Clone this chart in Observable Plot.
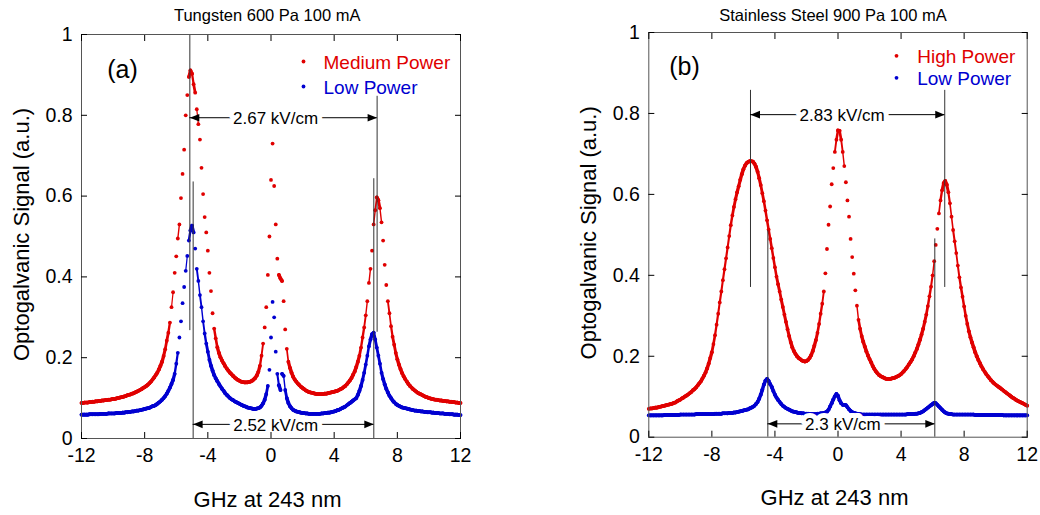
<!DOCTYPE html>
<html><head><meta charset="utf-8">
<script src="https://cdn.jsdelivr.net/npm/d3@7"></script>
<script src="https://cdn.jsdelivr.net/npm/@observablehq/plot@0.6"></script>
<style>
html,body{margin:0;padding:0;background:#fff;}
#wrap{position:relative;width:1040px;height:515px;overflow:hidden;background:#fff;}
#pa{position:absolute;left:0;top:0;}
#pb{position:absolute;left:520px;top:0;}
</style></head><body>
<div id="wrap"><div id="pa"></div><div id="pb"></div></div>
<script>
// detuning grid (GHz at 243 nm)
const ghz = [
-12,-11.9,-11.8,-11.7,-11.6,-11.5,-11.4,-11.3,-11.2,-11.1,
-11,-10.9,-10.8,-10.7,-10.6,-10.5,-10.4,-10.3,-10.2,-10.1,
-10,-9.9,-9.8,-9.7,-9.6,-9.5,-9.4,-9.3,-9.2,-9.1,
-9,-8.9,-8.8,-8.7,-8.6,-8.5,-8.4,-8.3,-8.2,-8.1,
-8,-7.9,-7.8,-7.7,-7.6,-7.5,-7.4,-7.3,-7.2,-7.1,
-7,-6.9,-6.8,-6.7,-6.6,-6.5,-6.4,-6.3,-6.2,-6.1,
-6,-5.9,-5.8,-5.7,-5.6,-5.5,-5.4,-5.3,-5.2,-5.1,
-5,-4.9,-4.8,-4.7,-4.6,-4.5,-4.4,-4.3,-4.2,-4.1,
-4,-3.9,-3.8,-3.7,-3.6,-3.5,-3.4,-3.3,-3.2,-3.1,
-3,-2.9,-2.8,-2.7,-2.6,-2.5,-2.4,-2.3,-2.2,-2.1,
-2,-1.9,-1.8,-1.7,-1.6,-1.5,-1.4,-1.3,-1.2,-1.1,
-1,-0.9,-0.8,-0.7,-0.6,-0.5,-0.4,-0.3,-0.2,-0.1,
0,0.1,0.2,0.3,0.4,0.5,0.6,0.7,0.8,0.9,
1,1.1,1.2,1.3,1.4,1.5,1.6,1.7,1.8,1.9,
2,2.1,2.2,2.3,2.4,2.5,2.6,2.7,2.8,2.9,
3,3.1,3.2,3.3,3.4,3.5,3.6,3.7,3.8,3.9,
4,4.1,4.2,4.3,4.4,4.5,4.6,4.7,4.8,4.9,
5,5.1,5.2,5.3,5.4,5.5,5.6,5.7,5.8,5.9,
6,6.1,6.2,6.3,6.4,6.5,6.6,6.7,6.8,6.9,
7,7.1,7.2,7.3,7.4,7.5,7.6,7.7,7.8,7.9,
8,8.1,8.2,8.3,8.4,8.5,8.6,8.7,8.8,8.9,
9,9.1,9.2,9.3,9.4,9.5,9.6,9.7,9.8,9.9,
10,10.1,10.2,10.3,10.4,10.5,10.6,10.7,10.8,10.9,
11,11.1,11.2,11.3,11.4,11.5,11.6,11.7,11.8,11.9,
12];

// (a) Tungsten, Medium Power
const tungstenMedium = [
0.088,0.088,0.089,0.089,0.089,0.090,0.090,0.091,0.091,0.092,
0.092,0.093,0.093,0.094,0.094,0.095,0.095,0.096,0.096,0.097,
0.098,0.098,0.099,0.100,0.101,0.102,0.103,0.104,0.105,0.107,
0.108,0.109,0.111,0.112,0.114,0.116,0.118,0.120,0.122,0.125,
0.127,0.130,0.133,0.137,0.141,0.146,0.151,0.157,0.163,0.171,
0.180,0.190,0.204,0.221,0.242,0.262,0.287,0.325,0.362,0.410,
0.451,0.495,0.530,0.595,0.655,0.715,0.800,0.850,0.895,0.911,
0.903,0.877,0.856,0.815,0.778,0.740,0.670,0.605,0.548,0.510,
0.465,0.410,0.365,0.310,0.272,0.248,0.226,0.212,0.201,0.193,
0.186,0.179,0.173,0.168,0.163,0.159,0.155,0.151,0.148,0.145,
0.143,0.141,0.140,0.139,0.139,0.139,0.140,0.141,0.143,0.146,
0.150,0.156,0.165,0.180,0.205,0.235,0.275,0.325,0.405,0.500,
0.640,0.730,0.625,0.530,0.445,0.405,0.396,0.390,0.340,0.270,
0.222,0.190,0.175,0.163,0.153,0.146,0.141,0.136,0.132,0.128,
0.125,0.122,0.119,0.117,0.115,0.114,0.113,0.112,0.111,0.110,
0.110,0.110,0.110,0.110,0.111,0.111,0.112,0.113,0.114,0.115,
0.116,0.117,0.118,0.120,0.122,0.124,0.127,0.130,0.134,0.139,
0.144,0.150,0.158,0.166,0.177,0.190,0.205,0.225,0.250,0.275,
0.305,0.340,0.385,0.420,0.465,0.530,0.565,0.597,0.590,0.570,
0.535,0.490,0.430,0.380,0.340,0.310,0.278,0.252,0.232,0.212,
0.196,0.183,0.172,0.162,0.154,0.147,0.141,0.135,0.130,0.126,
0.122,0.119,0.116,0.113,0.111,0.109,0.107,0.105,0.103,0.102,
0.100,0.099,0.098,0.097,0.096,0.096,0.095,0.094,0.094,0.093,
0.093,0.092,0.092,0.091,0.091,0.090,0.090,0.089,0.089,0.088,
0.088];

// (a) Tungsten, Low Power
const tungstenLow = [
0.059,0.059,0.059,0.059,0.059,0.060,0.060,0.060,0.060,0.060,
0.060,0.060,0.061,0.061,0.061,0.061,0.061,0.062,0.062,0.062,
0.062,0.062,0.063,0.063,0.063,0.063,0.064,0.064,0.065,0.065,
0.066,0.066,0.067,0.067,0.068,0.069,0.069,0.070,0.071,0.072,
0.073,0.074,0.075,0.076,0.078,0.080,0.081,0.083,0.086,0.089,
0.092,0.096,0.100,0.105,0.111,0.118,0.126,0.135,0.145,0.160,
0.185,0.212,0.250,0.290,0.335,0.375,0.415,0.452,0.490,0.515,
0.527,0.510,0.470,0.420,0.390,0.355,0.325,0.290,0.260,0.235,
0.215,0.195,0.180,0.168,0.157,0.149,0.142,0.135,0.129,0.123,
0.118,0.112,0.108,0.104,0.100,0.097,0.095,0.092,0.090,0.088,
0.086,0.084,0.082,0.080,0.079,0.077,0.076,0.075,0.074,0.073,
0.073,0.074,0.075,0.077,0.081,0.087,0.096,0.110,0.130,0.170,
0.250,0.338,0.300,0.215,0.160,0.132,0.120,0.160,0.155,0.120,
0.100,0.088,0.080,0.075,0.071,0.069,0.067,0.066,0.065,0.064,
0.063,0.063,0.062,0.062,0.061,0.061,0.061,0.061,0.061,0.061,
0.061,0.061,0.062,0.062,0.063,0.063,0.064,0.064,0.065,0.066,
0.067,0.068,0.070,0.071,0.073,0.075,0.077,0.079,0.082,0.085,
0.088,0.091,0.094,0.097,0.100,0.108,0.118,0.130,0.145,0.163,
0.183,0.205,0.228,0.245,0.258,0.262,0.245,0.225,0.205,0.185,
0.163,0.147,0.134,0.123,0.114,0.106,0.100,0.094,0.090,0.086,
0.083,0.081,0.079,0.077,0.076,0.075,0.074,0.073,0.072,0.071,
0.070,0.069,0.069,0.068,0.068,0.067,0.067,0.066,0.066,0.065,
0.065,0.065,0.064,0.064,0.063,0.063,0.063,0.062,0.062,0.062,
0.061,0.061,0.061,0.060,0.060,0.060,0.059,0.059,0.059,0.058,
0.058];

// (b) Stainless Steel, High Power
const steelHigh = [
0.070,0.071,0.071,0.072,0.073,0.073,0.074,0.075,0.076,0.077,
0.078,0.079,0.080,0.081,0.082,0.083,0.085,0.086,0.089,0.091,
0.093,0.096,0.098,0.101,0.103,0.106,0.109,0.112,0.116,0.119,
0.123,0.128,0.133,0.138,0.145,0.152,0.160,0.170,0.182,0.196,
0.210,0.230,0.252,0.278,0.305,0.333,0.360,0.388,0.415,0.442,
0.469,0.497,0.524,0.548,0.569,0.588,0.605,0.620,0.636,0.650,
0.662,0.671,0.677,0.680,0.682,0.682,0.681,0.676,0.668,0.656,
0.640,0.623,0.603,0.583,0.560,0.536,0.513,0.490,0.467,0.443,
0.420,0.397,0.378,0.360,0.340,0.322,0.303,0.285,0.267,0.250,
0.235,0.222,0.213,0.206,0.200,0.196,0.193,0.190,0.188,0.187,
0.188,0.191,0.196,0.203,0.213,0.226,0.240,0.258,0.280,0.305,
0.330,0.360,0.405,0.465,0.525,0.570,0.625,0.665,0.705,0.735,
0.758,0.757,0.735,0.705,0.670,0.630,0.585,0.545,0.490,0.445,
0.404,0.363,0.325,0.290,0.268,0.250,0.236,0.224,0.212,0.202,
0.193,0.185,0.176,0.169,0.163,0.158,0.154,0.151,0.149,0.147,
0.145,0.144,0.144,0.144,0.145,0.146,0.147,0.149,0.151,0.153,
0.156,0.160,0.164,0.169,0.174,0.180,0.186,0.192,0.200,0.209,
0.218,0.229,0.241,0.254,0.268,0.285,0.303,0.324,0.348,0.372,
0.400,0.435,0.475,0.515,0.553,0.585,0.610,0.628,0.633,0.624,
0.605,0.578,0.545,0.512,0.484,0.455,0.424,0.395,0.370,0.347,
0.323,0.300,0.280,0.262,0.247,0.234,0.222,0.210,0.200,0.191,
0.183,0.175,0.168,0.162,0.156,0.151,0.146,0.141,0.137,0.133,
0.130,0.127,0.124,0.121,0.118,0.115,0.112,0.109,0.106,0.103,
0.100,0.097,0.095,0.092,0.090,0.088,0.086,0.084,0.082,0.080,
0.078];

// (b) Stainless Steel, Low Power
const steelLow = [
0.054,0.054,0.054,0.054,0.054,0.054,0.054,0.054,0.054,0.054,
0.055,0.055,0.055,0.055,0.055,0.055,0.055,0.055,0.055,0.055,
0.056,0.056,0.056,0.056,0.056,0.056,0.056,0.056,0.056,0.056,
0.057,0.057,0.057,0.057,0.057,0.057,0.057,0.057,0.057,0.057,
0.057,0.057,0.058,0.058,0.058,0.058,0.058,0.059,0.059,0.059,
0.059,0.060,0.060,0.060,0.061,0.061,0.062,0.063,0.064,0.065,
0.066,0.067,0.068,0.069,0.071,0.073,0.075,0.078,0.082,0.087,
0.095,0.105,0.117,0.130,0.140,0.144,0.139,0.131,0.124,0.114,
0.105,0.098,0.092,0.087,0.082,0.078,0.075,0.072,0.070,0.068,
0.066,0.064,0.063,0.062,0.061,0.060,0.060,0.059,0.059,0.058,
0.058,0.058,0.057,0.057,0.057,0.057,0.057,0.058,0.058,0.059,
0.059,0.060,0.061,0.063,0.068,0.076,0.084,0.093,0.101,0.107,
0.102,0.091,0.084,0.080,0.080,0.079,0.074,0.069,0.065,0.062,
0.060,0.059,0.058,0.057,0.057,0.056,0.056,0.056,0.056,0.056,
0.056,0.056,0.056,0.056,0.056,0.056,0.056,0.056,0.056,0.056,
0.056,0.056,0.056,0.056,0.056,0.056,0.056,0.056,0.056,0.056,
0.056,0.056,0.056,0.056,0.057,0.057,0.057,0.057,0.057,0.058,
0.058,0.059,0.060,0.062,0.064,0.067,0.070,0.073,0.076,0.079,
0.082,0.085,0.084,0.080,0.076,0.072,0.068,0.064,0.061,0.059,
0.058,0.057,0.057,0.056,0.056,0.056,0.056,0.056,0.056,0.056,
0.056,0.056,0.056,0.056,0.056,0.056,0.056,0.055,0.055,0.055,
0.055,0.055,0.055,0.055,0.055,0.055,0.055,0.055,0.055,0.055,
0.055,0.055,0.055,0.055,0.055,0.054,0.054,0.054,0.054,0.054,
0.054,0.054,0.054,0.054,0.054,0.054,0.054,0.054,0.054,0.054,
0.054];

const xTicks = [-12, -8, -4, 0, 4, 8, 12];
const yTicks = [0, 0.2, 0.4, 0.6, 0.8, 1];
const titles = ["Tungsten 600 Pa 100 mA", "Stainless Steel 900 Pa 100 mA"];
const panelTags = ["(a)", "(b)"];
const legendA = ["Medium Power", "Low Power"];
const legendB = ["High Power", "Low Power"];
const xLabel = "GHz at 243 nm";
const yLabel = "Optogalvanic Signal (a.u.)";

// peak-marker lines (GHz, signal extent) and field annotations
const markersA = [
  {x: -5.14, y1: 0.267, y2: 1},
  {x: -4.93, y1: 0, y2: 0.635},
  {x: 6.72, y1: 0.263, y2: 0.847},
  {x: 6.51, y1: 0, y2: 0.643}
];
const fieldsA = [
  {x1: -5.14, x2: 6.72, y: 0.794, at: 0.29, label: "2.67 kV/cm"},
  {x1: -4.93, x2: 6.51, y: 0.035, at: 0.30, label: "2.52 kV/cm"}
];
const markersB = [
  {x: -5.55, y1: 0.37, y2: 0.857},
  {x: -4.45, y1: 0, y2: 0.51},
  {x: 6.77, y1: 0.37, y2: 0.857},
  {x: 6.14, y1: 0, y2: 0.49}
];
const fieldsB = [
  {x1: -5.55, x2: 6.77, y: 0.797, at: 0.26, label: "2.83 kV/cm"},
  {x1: -4.45, x2: 6.14, y: 0.033, at: 0.31, label: "2.3 kV/cm"}
];

const FONT = "'Liberation Sans', Arial, Helvetica, sans-serif";
const RED = "#e00000", BLUE = "#0000d0";
const headLeft = {draw(c) { c.moveTo(0, 0); c.lineTo(9.5, -3.8); c.lineTo(9.5, 3.8); c.closePath(); }};
const headRight = {draw(c) { c.moveTo(0, 0); c.lineTo(-9.5, -3.8); c.lineTo(-9.5, 3.8); c.closePath(); }};
const fmt = d => String(d);

// consecutive samples close together on screen blend into a trace;
// the joining stroke thins out as neighbouring samples spread apart
function joinWidth(dy) {
  const a = Math.abs(dy);
  if (a <= 0.012) return 3.6;
  if (a >= 0.05) return 0;
  return 3.6 * (0.05 - a) / 0.038;
}
function joins(series, color) {
  const idx = d3.range(series.length - 1).filter(i => joinWidth(series[i + 1] - series[i]) > 1.2);
  return Plot.link(idx, {
    x1: i => ghz[i], y1: i => series[i], x2: i => ghz[i + 1], y2: i => series[i + 1],
    stroke: color, strokeWidth: i => joinWidth(series[i + 1] - series[i]), strokeLinecap: "round"
  });
}

function panel(o) {
  const colors = [RED, BLUE];
  const legendMarks = o.legend.flatMap((t, i) => [
    Plot.dot([t], {frameAnchor: "top-left", dx: o.lgDot, dy: o.lgDy[i], r: 1.9, fill: colors[i], stroke: "none"}),
    Plot.text([t], {frameAnchor: "top-left", dx: o.lgText, dy: o.lgDy[i] + 1, text: d => d, textAnchor: "start", lineAnchor: "middle", fill: colors[i], fontSize: 19})
  ]);
  return Plot.plot({
    width: 520, height: 515,
    marginTop: o.mt, marginRight: o.mr, marginBottom: o.mb, marginLeft: o.ml,
    style: {fontFamily: FONT, fontSize: "19.5px", color: "#000", background: "#fff", overflow: "visible"},
    x: {domain: [-12, 12], axis: null},
    y: {domain: [0, 1], axis: null},
    marks: [
      joins(o.s1, RED),
      Plot.dot(ghz, {x: ghz, y: o.s1, r: 1.9, fill: RED, stroke: "none"}),
      joins(o.s2, BLUE),
      Plot.dot(ghz, {x: ghz, y: o.s2, r: 1.9, fill: BLUE, stroke: "none"}),
      Plot.ruleX(o.markers, {x: "x", y1: "y1", y2: "y2", stroke: "#333", strokeWidth: 1}),
      Plot.ruleY(o.fields, {y: "y", x1: "x1", x2: "x2", stroke: "#000", strokeWidth: 1}),
      Plot.dot(o.fields, {x: "x1", y: "y", symbol: headLeft, fill: "#000", stroke: "none"}),
      Plot.dot(o.fields, {x: "x2", y: "y", symbol: headRight, fill: "#000", stroke: "none"}),
      Plot.text(o.fields, {x: "at", y: "y", text: "label", fontSize: 17, fill: "#000", stroke: "#fff", strokeWidth: 10, dy: 1}),
      Plot.frame({stroke: "#555"}),
      Plot.axisX(xTicks, {anchor: "bottom", tickSize: -6, tickPadding: 15.5, tickFormat: fmt, label: null}),
      Plot.axisX(xTicks, {anchor: "top", tickSize: -6, tickFormat: () => "", label: null}),
      Plot.axisY(yTicks, {anchor: "left", tickSize: -6, tickPadding: 15, tickFormat: fmt, label: null}),
      Plot.axisY(yTicks, {anchor: "right", tickSize: -6, tickFormat: () => "", label: null}),
      Plot.text([o.title], {frameAnchor: "top", text: d => d, textAnchor: "middle", lineAnchor: "bottom", dx: o.tdx, dy: o.tdy, fontSize: 16.5}),
      Plot.text([xLabel], {frameAnchor: "bottom", text: d => d, textAnchor: "middle", lineAnchor: "bottom", dx: -3.5, dy: 68, fontSize: 22}),
      Plot.text([yLabel], {frameAnchor: "left", text: d => d, textAnchor: "middle", lineAnchor: "bottom", rotate: -90, dx: o.ydx, dy: -2, fontSize: 22}),
      Plot.text([o.tag], {frameAnchor: "top-left", text: d => d, textAnchor: "middle", lineAnchor: "middle", dx: o.tagDx, dy: o.tagDy, fontSize: 25}),
      ...legendMarks
    ]
  });
}

document.getElementById("pa").appendChild(panel({
  s1: tungstenMedium, s2: tungstenLow, markers: markersA, fields: fieldsA,
  title: titles[0], tag: panelTags[0], legend: legendA,
  mt: 34, mr: 60, mb: 77, ml: 81,
  tdx: -3.8, tdy: -14, ydx: -52.5, tagDx: 41, tagDy: 35,
  lgDot: 222, lgText: 242, lgDy: [27, 52]
}));
document.getElementById("pb").appendChild(panel({
  s1: steelHigh, s2: steelLow, markers: markersB, fields: fieldsB,
  title: titles[1], tag: panelTags[1], legend: legendB,
  mt: 32, mr: 13.3, mb: 78.3, ml: 128.3,
  tdx: -5, tdy: -12, ydx: -52.8, tagDx: 35.7, tagDy: 34.5,
  lgDot: 247.7, lgText: 268.4, lgDy: [23.3, 45.3]
}));
</script>
</body></html>
